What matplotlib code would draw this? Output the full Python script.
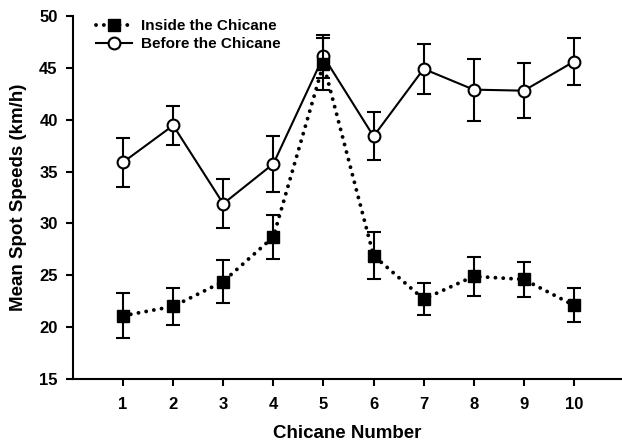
import matplotlib
matplotlib.use("Agg")
import matplotlib.pyplot as plt

chicanes = [1, 2, 3, 4, 5, 6, 7, 8, 9, 10]
inside_mean = [21.1, 22.0, 24.4, 28.7, 45.4, 26.9, 22.7, 24.9, 24.6, 22.1]
inside_err = [2.15, 1.75, 2.05, 2.1, 2.5, 2.3, 1.55, 1.9, 1.7, 1.65]
before_mean = [35.9, 39.45, 31.9, 35.75, 46.1, 38.4, 44.9, 42.9, 42.8, 45.6]
before_err = [2.35, 1.9, 2.35, 2.7, 2.05, 2.3, 2.4, 3.0, 2.65, 2.25]
xticks = [1, 2, 3, 4, 5, 6, 7, 8, 9, 10]
yticks = [15, 20, 25, 30, 35, 40, 45, 50]

plt.rcParams['font.family'] = ['Liberation Sans', 'DejaVu Sans']
fig = plt.figure(figsize=(6.22, 4.44), dpi=100)
ax = fig.add_axes([73 / 622, 1 - 379 / 444, 1 - 73 / 622, (379 - 16) / 444])

eb_before = ax.errorbar(chicanes, before_mean, yerr=before_err, color='black', lw=1.5,
                        marker='o', markersize=8.5, markerfacecolor='white',
                        markeredgecolor='black', markeredgewidth=1.5,
                        capsize=5, elinewidth=1.5, capthick=1.5, zorder=3)
eb_inside = ax.errorbar(chicanes, inside_mean, yerr=inside_err, color='black', lw=2.8,
                        linestyle=(0, (0.01, 2.0)), dash_capstyle='round',
                        marker='s', markersize=8, markerfacecolor='black',
                        markeredgecolor='black', capsize=5, elinewidth=1.5, capthick=1.5,
                        zorder=4)

ax.set_xlim(0, 10.96)
ax.set_ylim(15, 50)
ax.set_xticks(xticks)
ax.set_yticks(yticks)
ax.spines['top'].set_visible(False)
ax.spines['right'].set_visible(False)
for s in ['left', 'bottom']:
    ax.spines[s].set_linewidth(1.5)
ax.tick_params(direction='out', length=5, width=1.5, labelsize=12)
ax.tick_params(axis='x', pad=8)
ax.tick_params(axis='y', pad=6)
for lbl in ax.get_xticklabels() + ax.get_yticklabels():
    lbl.set_fontweight('bold')

ax.set_xlabel('Chicane Number', fontsize=13.5, fontweight='bold', labelpad=9)
ax.set_ylabel('Mean Spot Speeds (km/h)', fontsize=13.5, fontweight='bold', labelpad=9)

ax.legend([eb_inside[0], eb_before[0]], ['Inside the Chicane', 'Before the Chicane'],
          loc='upper left', bbox_to_anchor=(0.016, 1.03),
          frameon=False, prop={'weight': 'bold', 'size': 11},
          handlelength=2.4, handletextpad=0.55, labelspacing=0.3)

fig.savefig('out.png', dpi=100)
